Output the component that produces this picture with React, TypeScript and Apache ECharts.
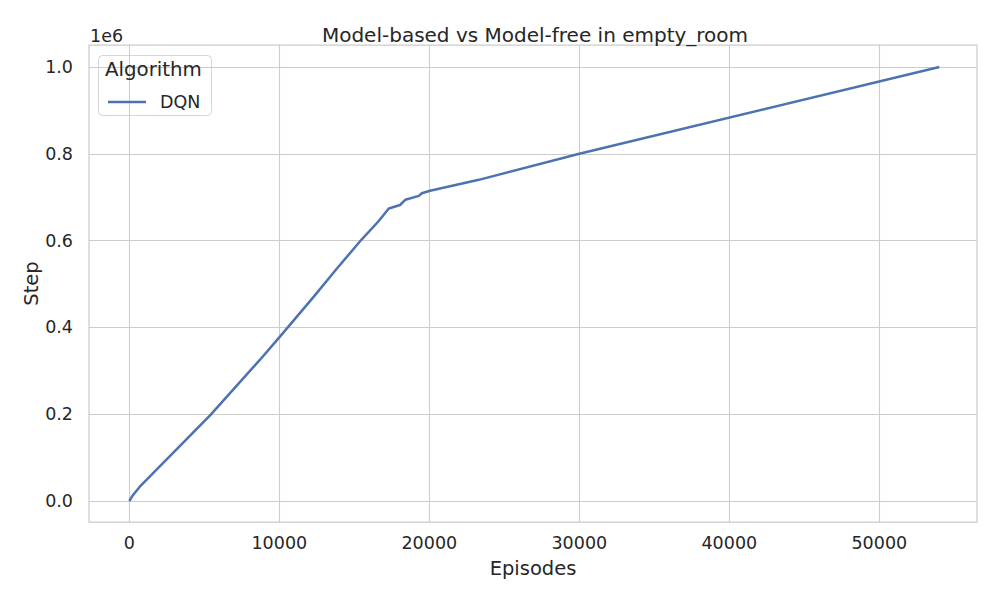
import React, { useRef, useEffect } from 'react';
import * as echarts from 'echarts';

// DQN curve: cumulative steps vs episodes
const episodes = [0, 250, 700, 5400, 8700, 10000, 12300, 13800, 15500, 16600, 17300, 18050, 18400, 19300, 19500, 20050, 23300, 30000, 54000];
const steps = [0, 14000, 33000, 198000, 325000, 377000, 471000, 534000, 603000, 644000, 674000, 682000, 694000, 703000, 709000, 715000, 740000, 800000, 1000000];

const xTicks = [0, 10000, 20000, 30000, 40000, 50000];
const yTicks = [0, 200000, 400000, 600000, 800000, 1000000];

const seriesName = 'DQN';
const FONT = 'DejaVu Sans';
const TEXT = '#262626';
const GRID = '#cccccc';

export default function App() {
  const chartRef = useRef<HTMLDivElement>(null);

  useEffect(() => {
    if (!chartRef.current) return;
    const chart = echarts.init(chartRef.current, null, { renderer: 'svg' });

    const option: echarts.EChartsOption = {
      animation: false,
      backgroundColor: '#ffffff',
      textStyle: { fontFamily: FONT, color: TEXT },
      title: {
        text: 'Model-based vs Model-free in empty_room',
        left: 530,
        textAlign: 'center',
        top: 20,
        textStyle: { fontFamily: FONT, fontSize: 20, fontWeight: 'normal', color: TEXT }
      },
      grid: {
        left: 89,
        right: 23,
        top: 45,
        bottom: 78,
        show: true,
        borderColor: GRID,
        borderWidth: 1.25,
        backgroundColor: 'transparent'
      },
      legend: {
        data: [{ name: seriesName, icon: 'rect' }],
        left: 103,
        top: 88,
        itemWidth: 38,
        itemHeight: 2.5,
        textStyle: { fontFamily: FONT, fontSize: 17.5, color: TEXT, padding: [0, 0, 0, 9] }
      },
      graphic: [
        {
          type: 'rect',
          left: 98,
          top: 55,
          shape: { width: 113, height: 60, r: 4 },
          style: { fill: 'rgba(255,255,255,0.8)', stroke: '#d5d5d5', lineWidth: 1 },
          z: 0
        },
        {
          type: 'text',
          left: 105,
          top: 59,
          style: { text: 'Algorithm', font: `19.8px "${FONT}"`, fill: TEXT },
          z: 10
        },
        {
          type: 'text',
          left: 90,
          top: 27,
          style: { text: '1e6', font: `17.5px "${FONT}"`, fill: TEXT }
        }
      ],
      xAxis: {
        type: 'value',
        min: -2687,
        max: 56513,
        name: 'Episodes',
        nameLocation: 'middle',
        nameGap: 36,
        nameMoveOverlap: false,
        nameTextStyle: { fontFamily: FONT, fontSize: 19.5, color: TEXT },
        axisLine: { show: false },
        axisTick: { show: false, customValues: xTicks },
        axisLabel: {
          customValues: xTicks,
          margin: 12,
          fontFamily: FONT,
          fontSize: 17.5,
          color: TEXT,
          formatter: (v: number) => String(v)
        },
        splitLine: { show: true, lineStyle: { color: GRID, width: 1.1 } }
      },
      yAxis: {
        type: 'value',
        min: -48387,
        max: 1050691,
        name: 'Step',
        nameLocation: 'middle',
        nameGap: 48,
        nameMoveOverlap: false,
        nameTextStyle: { fontFamily: FONT, fontSize: 19.5, color: TEXT },
        axisLine: { show: false },
        axisTick: { show: false, customValues: yTicks },
        axisLabel: {
          customValues: yTicks,
          margin: 16,
          fontFamily: FONT,
          fontSize: 17.5,
          color: TEXT,
          formatter: (v: number) => (v / 1e6).toFixed(1)
        },
        splitLine: { show: true, lineStyle: { color: GRID, width: 1.1 } }
      },
      series: [
        {
          name: seriesName,
          type: 'line',
          data: episodes.map((e, i) => [e, steps[i]]),
          symbol: 'none',
          smooth: false,
          lineStyle: { color: '#4c72b0', width: 2.5 },
          itemStyle: { color: '#4c72b0' },
          z: 5
        }
      ]
    };

    chart.setOption(option);
    return () => chart.dispose();
  }, []);

  return <div ref={chartRef} style={{ width: 1000, height: 600, margin: -8 }} />;
}
